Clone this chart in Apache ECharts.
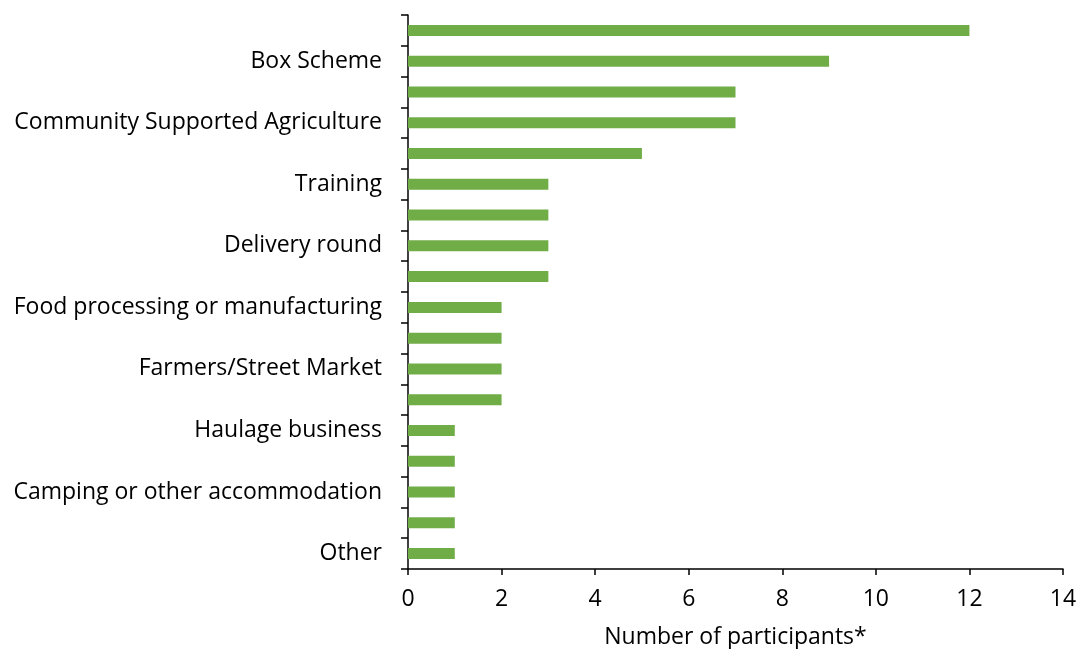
<!DOCTYPE html>
<html>
<head>
<meta charset="utf-8">
<style>
  html, body { margin: 0; padding: 0; background: #fff; }
  #chart { width: 1077px; height: 649px; }
</style>
<script src="https://cdn.jsdelivr.net/npm/echarts@6/dist/echarts.min.js"></script>
</head>
<body>
<div id="chart"></div>
<script>
// Category labels, top to bottom; only every second category carries a printed label
const categories = [
  "", "Box Scheme",
  "", "Community Supported Agriculture",
  "", "Training",
  "", "Delivery round",
  "", "Food processing or manufacturing",
  "", "Farmers/Street Market",
  "", "Haulage business",
  "", "Camping or other accommodation",
  "", "Other"
];
// Number of participants per category, top to bottom
const participants = [12, 9, 7, 7, 5, 3, 3, 3, 3, 2, 2, 2, 2, 1, 1, 1, 1, 1];
const xTicks = [0, 2, 4, 6, 8, 10, 12, 14];
const xTitle = "Number of participants*";

const FONT = "'Open Sans', Lato, sans-serif";
const FS = 23;
const chart = echarts.init(document.getElementById('chart'), null, { renderer: 'canvas' });

chart.setOption({
  animation: false,
  grid: {
    left: 408, right: 14, top: 15, bottom: 80,
    containLabel: false,
    outerBoundsMode: 'none'
  },
  xAxis: {
    type: 'value',
    min: xTicks[0],
    max: xTicks[xTicks.length - 1],
    interval: xTicks[1] - xTicks[0],
    name: xTitle,
    nameLocation: 'middle',
    nameGap: 57,
    nameTextStyle: { fontFamily: FONT, fontSize: FS, color: '#000' },
    axisLine: { show: true, lineStyle: { color: '#000', width: 1.5 } },
    axisTick: { show: true, length: 6, lineStyle: { color: '#000', width: 1.5 } },
    axisLabel: { fontFamily: FONT, fontSize: FS, color: '#000', margin: 19 },
    splitLine: { show: false }
  },
  yAxis: {
    type: 'category',
    inverse: true,
    data: categories,
    axisLine: { show: true, lineStyle: { color: '#000', width: 1.5 } },
    axisTick: { show: true, length: 7, interval: 0, lineStyle: { color: '#000', width: 1.5 } },
    axisLabel: { interval: 0, fontFamily: FONT, fontSize: FS, color: '#000', margin: 26 }
  },
  series: [{
    type: 'bar',
    data: participants,
    barWidth: 11,
    itemStyle: { color: '#70AD47' }
  }]
});
</script>
</body>
</html>
